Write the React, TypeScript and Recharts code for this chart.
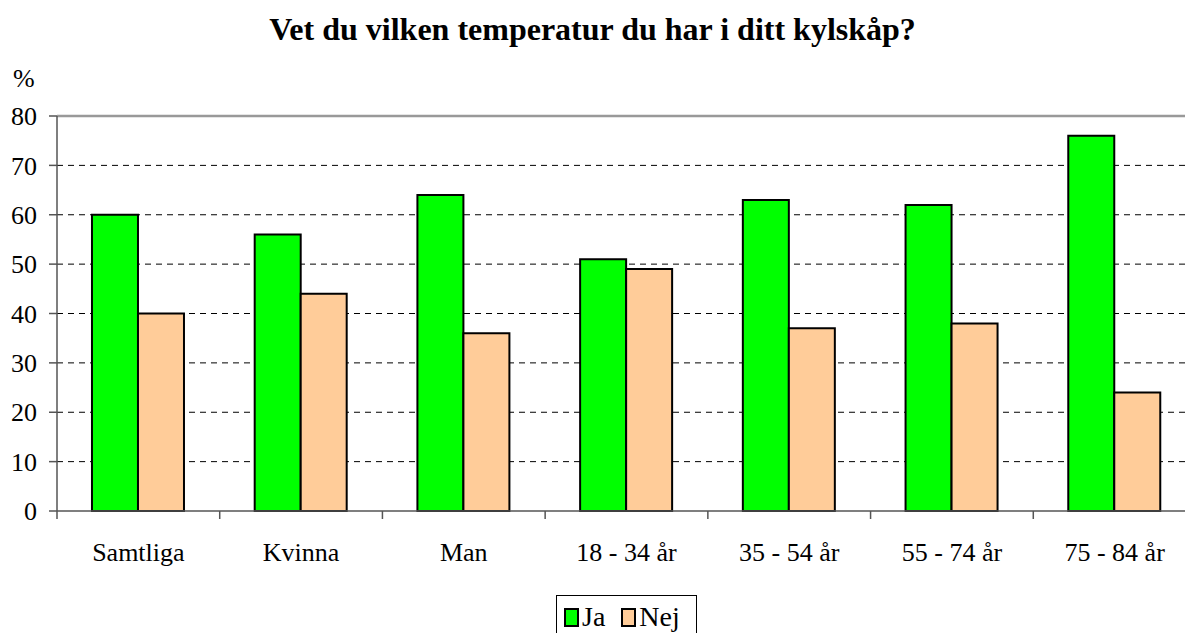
import React, { useLayoutEffect, useRef } from 'react';
import {
  BarChart,
  Bar,
  XAxis,
  YAxis,
  CartesianGrid,
  ReferenceLine
} from 'recharts';

const categories = ['Samtliga', 'Kvinna', 'Man', '18 - 34 år', '35 - 54 år', '55 - 74 år', '75 - 84 år'];
const jaValues = [60, 56, 64, 51, 63, 62, 76];
const nejValues = [40, 44, 36, 49, 37, 38, 24];
const yTicks = [0, 10, 20, 30, 40, 50, 60, 70, 80];

const series = [
  { key: 'ja', name: 'Ja', color: '#00ff00' },
  { key: 'nej', name: 'Nej', color: '#ffcc99' }
];

const data = categories.map((name, i) => ({
  name,
  ja: jaValues[i],
  nej: nejValues[i]
}));

const FONT = '"Liberation Serif", "Times New Roman", serif';
const CHART_W = 1196;
const PLOT_LEFT = 57;
const BAND = (CHART_W - PLOT_LEFT) / categories.length;

const fontCss = `html body #root .kyl, html body #root .kyl *, html body #root .kyl svg text { font-family: ${FONT} !important; }`;

// ticks sit on the category borders, labels in the middle
function CategoryTick(props: any) {
  const { x, y, payload, index } = props;
  const left = x - BAND / 2;
  return (
    <g>
      <line x1={left} y1={y - 8} x2={left} y2={y} stroke="#555" strokeWidth={1.5} />
      {index === categories.length - 1 && (
        <line x1={x + BAND / 2} y1={y - 8} x2={x + BAND / 2} y2={y} stroke="#555" strokeWidth={1.5} />
      )}
      <text x={x} y={y + 42} textAnchor="middle" fill="#000" fontSize={26} fontFamily={FONT}>
        {payload.value}
      </text>
    </g>
  );
}

export default function App() {
  const boxRef = useRef<HTMLDivElement>(null);

  useLayoutEffect(() => {
    const box = boxRef.current;
    if (!box) return;
    const apply = () => {
      box.style.setProperty('font-family', FONT, 'important');
      box.querySelectorAll('*').forEach((el: any) => {
        if (el.style) el.style.setProperty('font-family', FONT, 'important');
      });
    };
    apply();
    const t = setTimeout(apply, 50);
    return () => clearTimeout(t);
  });

  return (
    <div
      ref={boxRef}
      className="kyl"
      style={{
        position: 'absolute',
        left: 0,
        top: 0,
        width: 1185,
        height: 633,
        overflow: 'hidden',
        background: '#fff',
        fontFamily: FONT
      }}
    >
      <style>{fontCss}</style>
      <div
        style={{
          position: 'absolute',
          top: 13,
          left: 0,
          width: 1185,
          textAlign: 'center',
          fontSize: 32,
          fontWeight: 'bold',
          lineHeight: 1
        }}
      >
        Vet du vilken temperatur du har i ditt kylskåp?
      </div>
      <div style={{ position: 'absolute', top: 66, left: 13, fontSize: 26, lineHeight: 1 }}>%</div>

      <BarChart
        width={CHART_W}
        height={633}
        data={data}
        margin={{ top: 116, right: 0, left: 0, bottom: 62 }}
        barCategoryGap="21.5%"
        barGap={0}
      >
        <CartesianGrid
          vertical={false}
          horizontalValues={yTicks.filter((t) => t > 0 && t < 80)}
          stroke="#000"
          strokeDasharray="6 5"
        />
        <ReferenceLine y={80} stroke="#999" strokeWidth={2.5} ifOverflow="extendDomain" />
        <XAxis
          dataKey="name"
          height={60}
          tickLine={false}
          tickSize={8}
          tickMargin={0}
          axisLine={{ stroke: '#555', strokeWidth: 1.5 }}
          tick={<CategoryTick />}
          interval={0}
        />
        <YAxis
          width={PLOT_LEFT}
          domain={[0, 80]}
          ticks={yTicks}
          interval={0}
          tickSize={8}
          tickMargin={12}
          axisLine={{ stroke: '#555', strokeWidth: 1.5 }}
          tickLine={{ stroke: '#555', strokeWidth: 1.5 }}
          tick={{ fill: '#000', fontSize: 26, fontFamily: FONT }}
        />
        {series.map((s) => (
          <Bar
            key={s.key}
            dataKey={s.key}
            name={s.name}
            fill={s.color}
            stroke="#000"
            strokeWidth={2}
            isAnimationActive={false}
          />
        ))}
      </BarChart>

      <div
        style={{
          position: 'absolute',
          left: 556,
          top: 595,
          width: 141,
          height: 50,
          border: '1px solid #000',
          display: 'flex',
          alignItems: 'flex-start',
          paddingTop: 7,
          paddingLeft: 7,
          boxSizing: 'border-box',
          fontSize: 28,
          lineHeight: 1
        }}
      >
        {series.map((s) => (
          <div key={s.key} style={{ display: 'flex', alignItems: 'center', marginRight: 16 }}>
            <span
              style={{
                display: 'inline-block',
                width: 11,
                height: 15,
                background: s.color,
                border: '2px solid #000',
                marginRight: 3
              }}
            />
            <span>{s.name}</span>
          </div>
        ))}
      </div>
    </div>
  );
}
